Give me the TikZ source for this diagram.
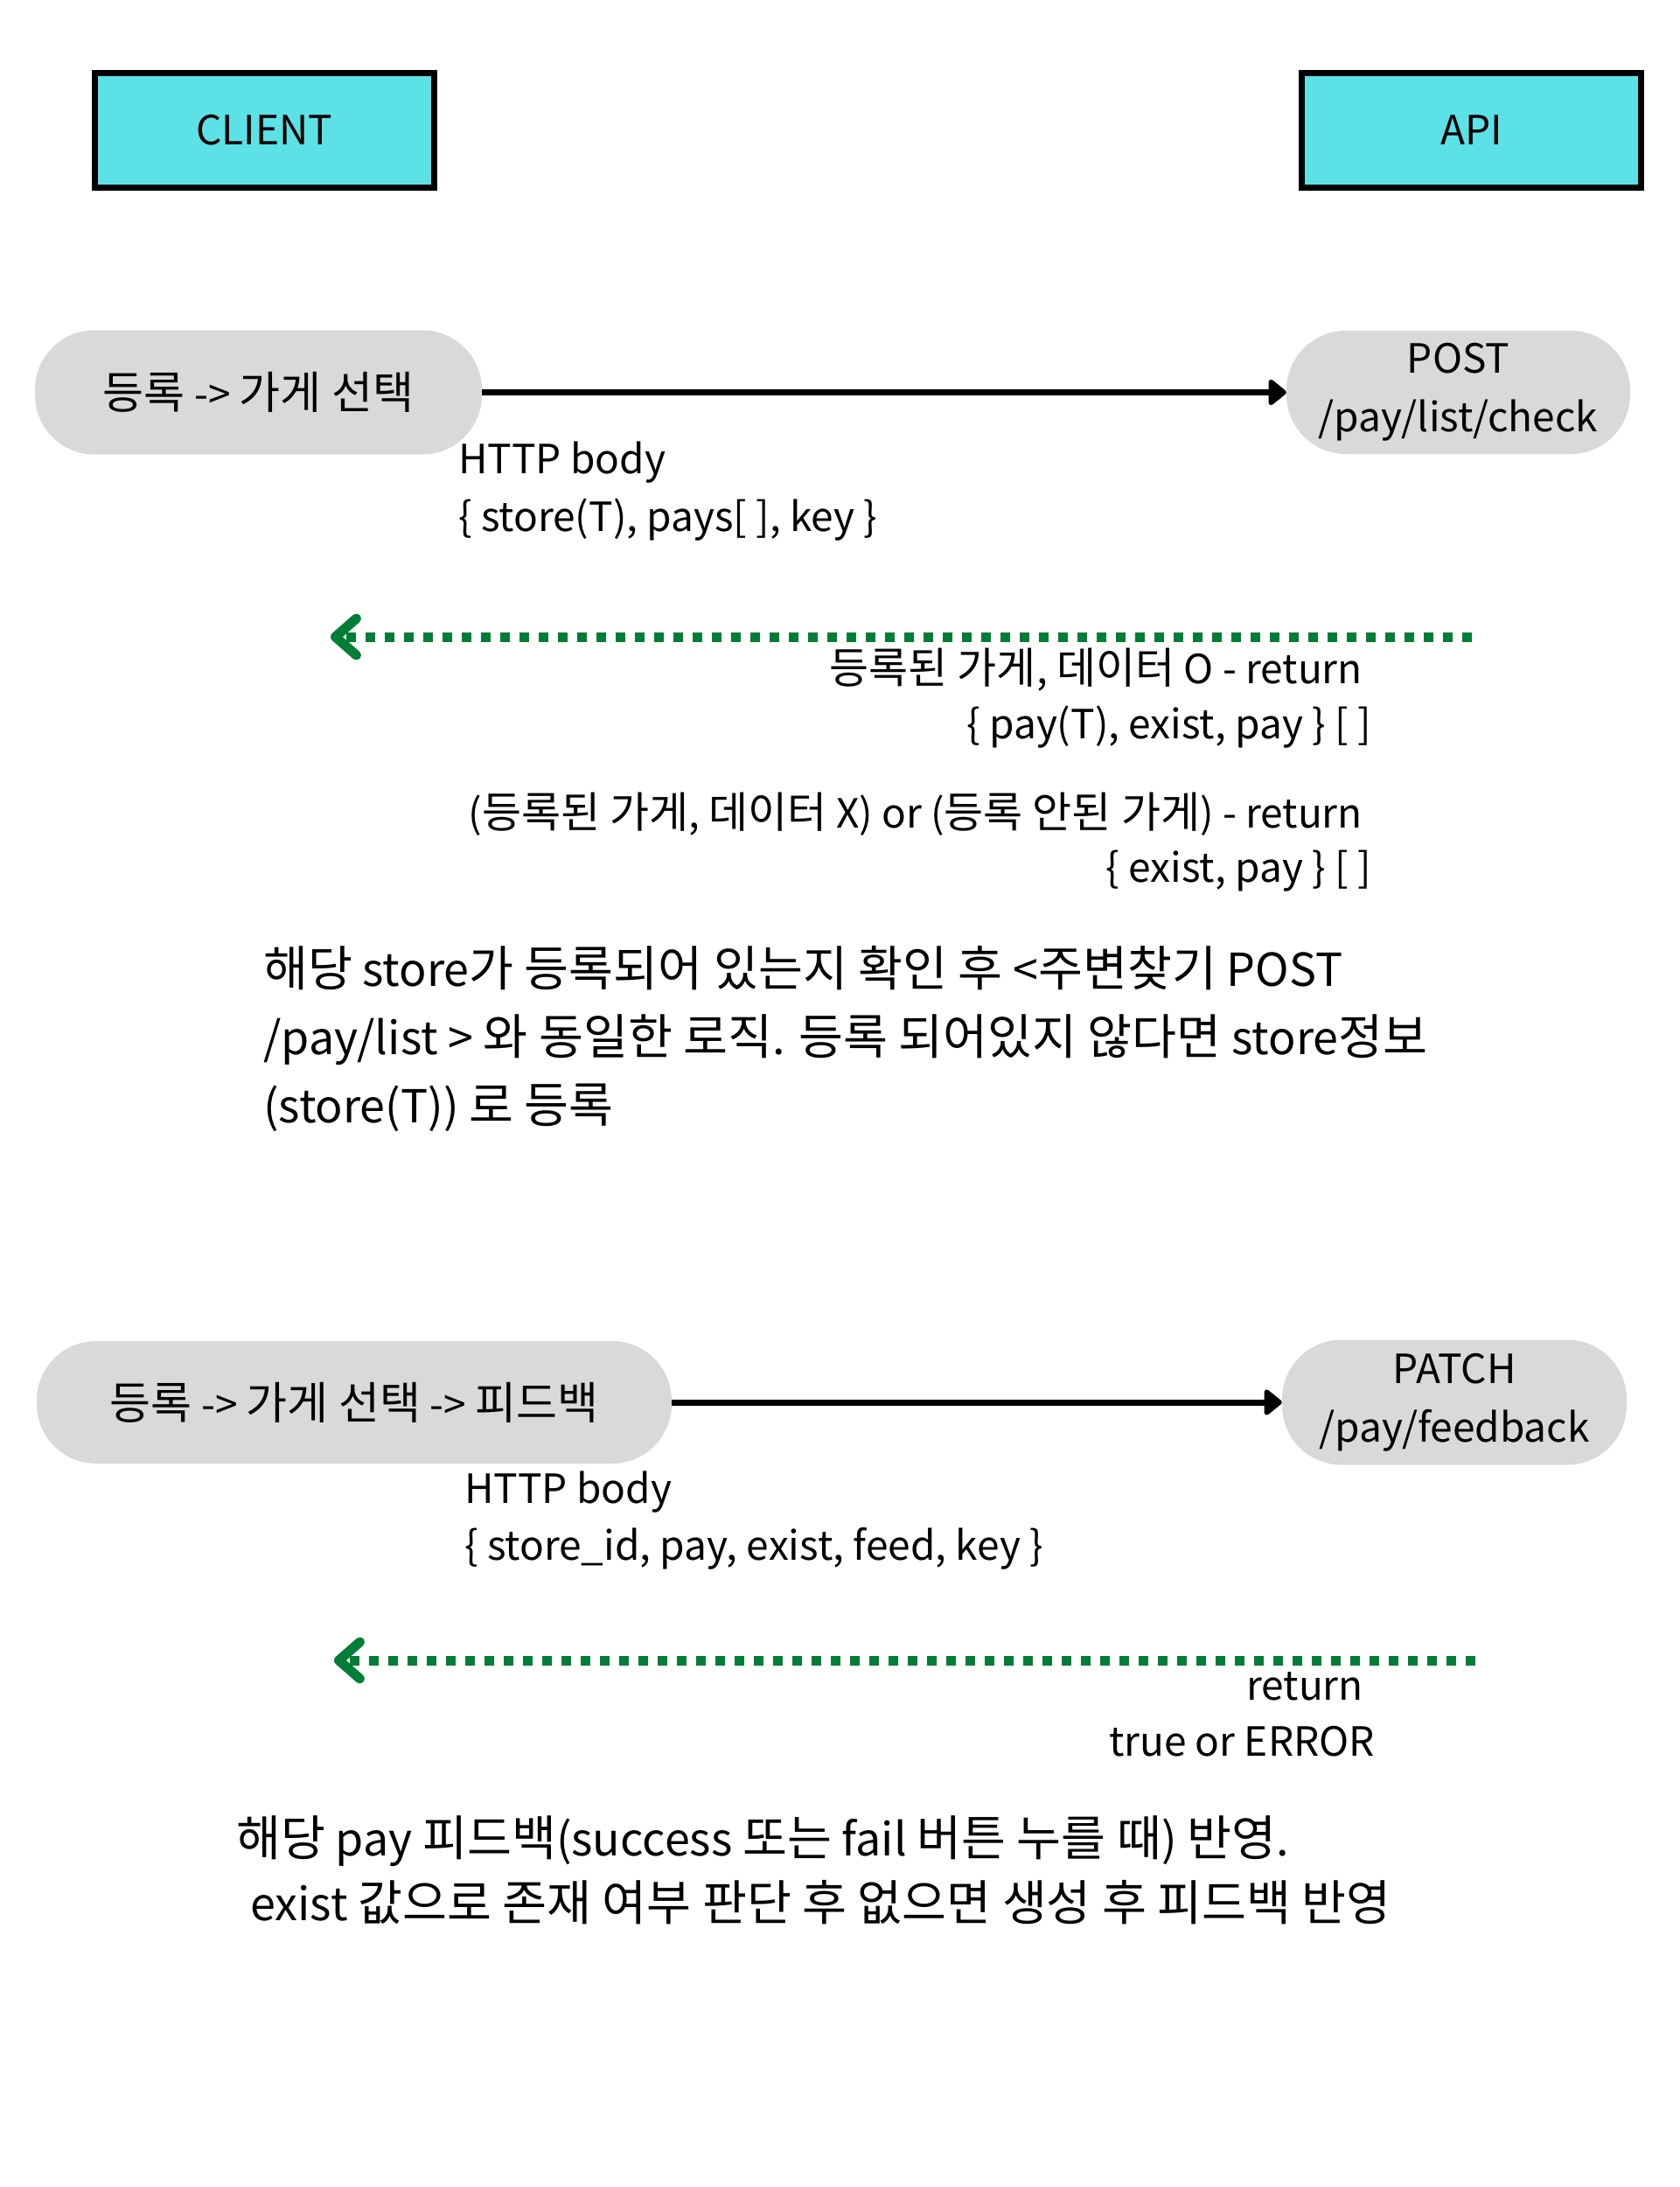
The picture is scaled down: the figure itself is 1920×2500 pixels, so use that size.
\documentclass[tikz,border=0pt]{standalone}
\usepackage{fontspec}
\setmainfont{Noto Sans CJK KR}
\newfontfamily\hgfont[Scale=1.065]{Noto Sans CJK KR}
\newfontfamily\hgbigfont[Scale=1.11]{Noto Sans CJK KR}
\newcommand\K[1]{{\hgfont #1}}
\newcommand\KB[1]{{\hgbigfont #1}}
\usetikzlibrary{arrows.meta}
\definecolor{cyanbox}{HTML}{5CE1E6}
\definecolor{pillgray}{HTML}{D9D9D9}
\definecolor{retgreen}{RGB}{0,125,55}
\begin{document}
\begin{tikzpicture}[x=1pt,y=-1pt,
  actor/.style={draw=black, line width=7pt, fill=cyanbox, minimum width=388pt, minimum height=131pt, inner sep=0pt, font=\fontsize{46}{56}\selectfont},
  pill/.style={fill=pillgray, rounded corners=68pt, inner sep=0pt, align=center, font=\fontsize{46}{67}\selectfont},
  call/.style={line width=7pt, -{Triangle[length=22pt,width=34pt,round]}},
  reply/.style={draw=retgreen, line width=11pt, dash pattern=on 11pt off 11pt, -{Straight Barb[length=24pt,width=42pt,round]}},
  lbl/.style={inner sep=0pt, font=\fontsize{46}{66}\selectfont},
  para/.style={inner sep=0pt, font=\fontsize{52}{78}\selectfont}
]
\useasboundingbox (0,0) rectangle (1920,2500);
\fill[white] (0,0) rectangle (1920,2500);

% lifeline heads
\node[actor] (client) at (302.5,149) {CLIENT};
\node[actor] (api) at (1682.5,149) {API};

% --- section 1 ---
\node[pill, minimum width=511pt, minimum height=142pt] (reg) at (295.5,448.5) {\KB{등록} -> \KB{가게 선택}};
\node[pill, minimum width=393pt, minimum height=141pt] (post) at (1667.5,448.5) {POST\\/pay/list/check};
\draw[call] (reg.east) -- (post.west);

\node[lbl, anchor=base west] (body1a) at (524,541) {HTTP body};
\node[lbl, anchor=base west] (body1b) at (524,607) {\{ store(T), pays[ ], key \}};

\coordinate (r1s) at (1683,728);
\coordinate (r1e) at (378,728);
\draw[reply] (r1s) -- (r1e);

\node[lbl, anchor=base east] (ret1a) at (1558,781) {\K{등록된 가게}, \K{데이터} O - return};
\node[lbl, anchor=base east] (ret1b) at (1568,844) {\{ pay(T), exist, pay \} [ ]};
\node[lbl, anchor=base east] (ret1c) at (1558,946) {(\K{등록된 가게}, \K{데이터} X) or (\K{등록 안된 가게}) - return};
\node[lbl, anchor=base east] (ret1d) at (1568,1008) {\{ exist, pay \} [ ]};

\node[para, anchor=base west] (p1a) at (301,1127) {\K{해당} store\K{가 등록되어 있는지 확인 후} <\K{주변찾기} POST};
\node[para, anchor=base west] (p1b) at (301,1205) {/pay/list > \K{와 동일한 로직}. \K{등록 되어있지 않다면} store\K{정보}};
\node[para, anchor=base west] (p1c) at (301,1283) {(store(T)) \K{로 등록}};

% --- section 2 ---
\node[pill, minimum width=726pt, minimum height=140pt] (fb) at (405,1603) {\KB{등록} -> \KB{가게 선택} -> \KB{피드백}};
\node[pill, minimum width=394pt, minimum height=143pt] (patch) at (1663,1603) {PATCH\\/pay/feedback};
\draw[call] (fb.east) -- (patch.west);

\node[lbl, anchor=base west] (body2a) at (531,1718) {HTTP body};
\node[lbl, anchor=base west] (body2b) at (531,1783) {\{ store\_id, pay, exist, feed, key \}};

\coordinate (r2s) at (1687,1898);
\coordinate (r2e) at (382,1898);
\draw[reply] (r2s) -- (r2e);

\node[lbl, anchor=base east] (ret2a) at (1559,1943) {return};
\node[lbl, anchor=base east] (ret2b) at (1572,2007) {true or ERROR};

\node[para, anchor=base west] (p2a) at (270,2121) {\K{해당} pay \K{피드백}(success \K{또는} fail \K{버튼 누를 때}) \K{반영}.};
\node[para, anchor=base west] (p2b) at (286,2195) {exist \K{값으로 존재 여부 판단 후 없으면 생성 후 피드백 반영}};
\end{tikzpicture}
\end{document}
